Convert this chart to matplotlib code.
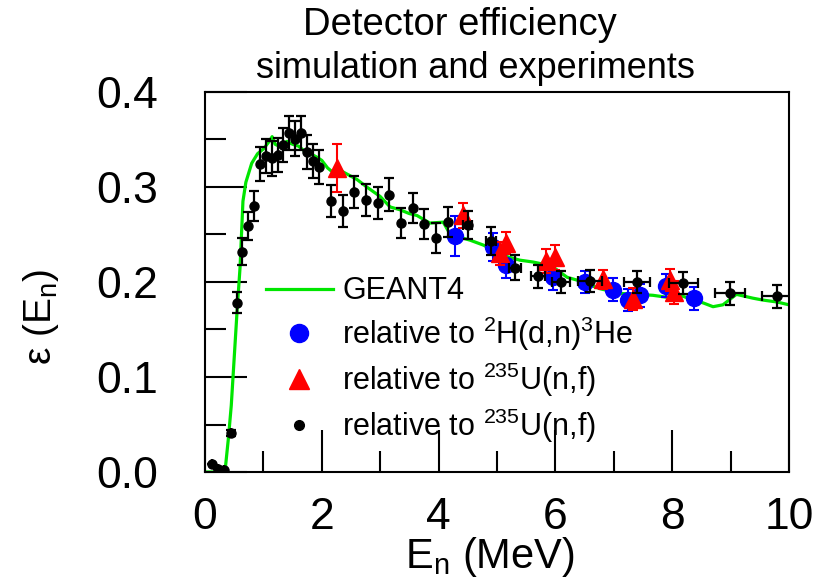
import matplotlib
matplotlib.use("Agg")
import matplotlib.pyplot as plt
from matplotlib.lines import Line2D
import numpy as np

plt.rcParams['font.family'] = ['Liberation Sans', 'DejaVu Sans']
plt.rcParams['mathtext.fontset'] = 'custom'
plt.rcParams['mathtext.rm'] = 'Liberation Sans'
plt.rcParams['mathtext.it'] = 'Liberation Sans:italic'

# GEANT4 simulated efficiency curve
sim_e = [0.0, 0.30, 0.35, 0.40, 0.45, 0.50, 0.55, 0.60, 0.65, 0.70, 0.80, 0.90,
         1.00, 1.10, 1.15, 1.20, 1.30, 1.40, 1.50, 1.60, 1.70, 1.80, 1.90, 2.00,
         2.10, 2.20, 2.30, 2.45, 2.60, 2.77, 3.00, 3.17, 3.34, 3.50, 3.63, 3.85,
         4.08, 4.20, 4.54, 4.76, 4.93, 5.10, 5.39, 5.62, 5.85, 6.00, 6.20, 6.37,
         6.76, 7.10, 7.40, 7.67, 7.90, 8.13, 8.53, 8.70, 8.87, 9.10, 9.38, 9.55,
         9.79, 10.0]
sim_eff = [0.0, 0.0, 0.005, 0.035, 0.07, 0.12, 0.17, 0.215, 0.285, 0.305, 0.325, 0.335,
           0.340, 0.348, 0.353, 0.345, 0.342, 0.348, 0.345, 0.343, 0.338, 0.335, 0.332, 0.328,
           0.320, 0.315, 0.318, 0.313, 0.308, 0.300, 0.290, 0.279, 0.276, 0.272, 0.270, 0.262,
           0.263, 0.250, 0.244, 0.239, 0.234, 0.228, 0.223, 0.221, 0.218, 0.214, 0.205, 0.202,
           0.193, 0.188, 0.187, 0.186, 0.184, 0.186, 0.178, 0.174, 0.176, 0.187, 0.183, 0.181,
           0.179, 0.176]

# relative to 2H(d,n)3He
dd_e = [4.28, 4.93, 5.15, 5.96, 6.50, 6.98, 7.24, 7.45, 7.90, 8.38]
dd_eff = [0.248, 0.237, 0.218, 0.205, 0.200, 0.192, 0.181, 0.186, 0.196, 0.183]
dd_err = [0.021, 0.015, 0.014, 0.013, 0.012, 0.012, 0.012, 0.012, 0.012, 0.012]

# relative to 235U(n,f), triangles
uf_e = [2.26, 4.42, 5.05, 5.15, 5.84, 5.99, 6.82, 7.33, 7.96, 8.03]
uf_eff = [0.320, 0.270, 0.230, 0.241, 0.222, 0.226, 0.203, 0.182, 0.202, 0.189]
uf_err = [0.025, 0.013, 0.012, 0.012, 0.013, 0.013, 0.010, 0.012, 0.012, 0.012]

# relative to 235U(n,f), small dots
u_e = [0.12, 0.22, 0.33, 0.45, 0.54, 0.63, 0.74, 0.84, 0.94, 1.04, 1.15, 1.25,
       1.34, 1.44, 1.54, 1.64, 1.74, 1.85, 1.95, 2.16, 2.36, 2.55, 2.76, 2.96,
       3.15, 3.36, 3.56, 3.75, 3.96, 4.16, 4.50, 4.90, 5.31, 5.70, 6.10, 6.59,
       7.40, 8.19, 8.99, 9.79]
u_eff = [0.008, 0.003, 0.002, 0.041, 0.178, 0.232, 0.259, 0.280, 0.324, 0.333, 0.330, 0.334,
         0.344, 0.357, 0.351, 0.357, 0.337, 0.327, 0.321, 0.285, 0.275, 0.295, 0.286, 0.283,
         0.292, 0.262, 0.278, 0.261, 0.246, 0.263, 0.260, 0.243, 0.215, 0.206, 0.200, 0.201,
         0.200, 0.199, 0.188, 0.185]
u_yerr = [0.0, 0.0, 0.0, 0.003, 0.011, 0.014, 0.015, 0.016, 0.018, 0.018, 0.018, 0.018,
          0.018, 0.018, 0.018, 0.018, 0.018, 0.018, 0.018, 0.017, 0.017, 0.017, 0.017, 0.017,
          0.017, 0.016, 0.016, 0.016, 0.016, 0.016, 0.015, 0.015, 0.013, 0.012, 0.012, 0.012,
          0.012, 0.012, 0.012, 0.012]
u_xerr = [0.0] * 30 + [0.08, 0.08, 0.10, 0.12, 0.15, 0.20, 0.22, 0.25, 0.25, 0.25]

fig = plt.figure(figsize=(8.18, 5.87), dpi=100)
ax = fig.add_axes([0.2506, 0.1959, 0.7139, 0.6474])

green = '#00e600'
ax.plot(sim_e, sim_eff, color=green, lw=2.3, zorder=2)

ax.errorbar(dd_e, dd_eff, yerr=dd_err, fmt='o', color='#0000ff', ms=11.5,
            elinewidth=1.5, capsize=3.5, capthick=1.5, zorder=3)
ax.errorbar(uf_e, uf_eff, yerr=uf_err, fmt='^', color='#ff0000', ms=13,
            elinewidth=1.5, capsize=3.5, capthick=1.5, zorder=4)
ax.errorbar(u_e, u_eff, yerr=u_yerr, xerr=u_xerr, fmt='o', color='black', ms=6.5,
            elinewidth=1.6, capsize=3.8, capthick=1.6, zorder=5)

ax.set_xlim(0, 10)
ax.set_ylim(0, 0.4)
ax.set_xticks(np.arange(0, 11, 2))
ax.set_xticks(np.arange(0, 11, 1), minor=True)
ax.set_yticks(np.arange(0, 0.41, 0.1))
ax.set_yticks(np.arange(0, 0.41, 0.05), minor=True)
ax.set_yticklabels(['0.0', '0.1', '0.2', '0.3', '0.4'])
ax.tick_params(which='major', direction='in', length=30, width=1.5, labelsize=32)
ax.tick_params(which='minor', direction='in', length=15, width=1.5)
ax.tick_params(axis='y', which='major', pad=34)
ax.tick_params(axis='x', which='major', pad=18)
for s in ax.spines.values():
    s.set_linewidth(1.5)

ax.set_xlabel('E$_\\mathrm{n}$ (MeV)', fontsize=30, labelpad=0)
ax.xaxis.set_label_coords(0.488, -0.165)
fig.text(0.05, 0.46, '\u03b5 (E$_\\mathrm{n}$)', rotation=90, fontsize=28,
         ha='center', va='center')

fig.text(0.562, 0.958, 'Detector efficiency', fontsize=27.5, ha='center', va='center')
fig.text(0.581, 0.884, 'simulation and experiments', fontsize=26, ha='center', va='center')

handles = [
    Line2D([], [], color=green, lw=2.3),
    Line2D([], [], ls='none', marker='o', color='#0000ff', ms=13),
    Line2D([], [], ls='none', marker='^', color='#ff0000', ms=15),
    Line2D([], [], ls='none', marker='o', color='black', ms=7),
]
labels = ['GEANT4',
          'relative to $^{2}$H(d,n)$^{3}$He',
          'relative to $^{235}$U(n,f)',
          'relative to $^{235}$U(n,f)']
fig.legend(handles, labels, loc='upper left', bbox_to_anchor=(0.31, 0.55),
           frameon=False, fontsize=22, handlelength=2.2, handletextpad=0.3,
           labelspacing=0.26, borderaxespad=0)

fig.savefig('out.png', dpi=100)
